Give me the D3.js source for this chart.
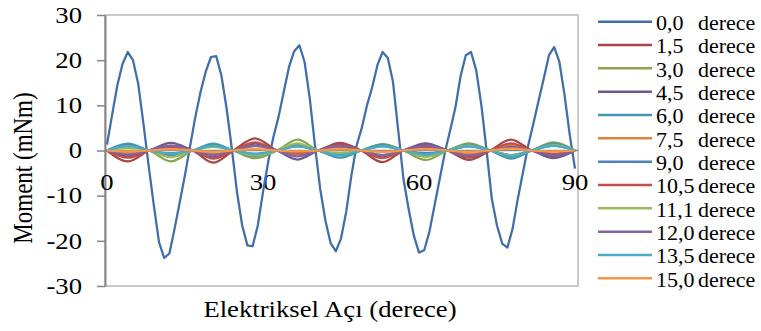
<!DOCTYPE html>
<html>
<head>
<meta charset="utf-8">
<script src="https://cdn.jsdelivr.net/npm/d3@7"></script>
<style>
    body { margin: 0; background: #fff; }
    svg { display: block; }
    text { font-family: "Liberation Serif", "Times New Roman", serif; fill: #000; }
</style>
</head>
<body>
<div id="chart"></div>
<script>

// x values (electrical angle, degrees) for the 0,0 series
let angles = d3.range(0, 91, 1);

// 0,0 derece - the large one, read point by point
let moment00 = [1.3, 8.0, 14.5, 19.2, 21.8, 20.0, 14.8, 6.0, -3.3, -12.1,
    -20.3, -23.8, -22.8, -17.3, -11.4, -5.4, 1.1, 7.5, 13.0, 17.5,
    20.7, 20.9, 16.6, 9.3, 0.5, -9.2, -16.6, -21.0, -21.2, -16.6,
    -9.2, -2.5, 3.0, 7.5, 13.0, 18.5, 22.0, 23.3, 19.6, 11.5,
    1.0, -8.5, -15.5, -20.5, -22.3, -19.5, -13.6, -5.5, 1.1, 5.0,
    10.0, 14.0, 18.9, 21.8, 20.5, 15.2, 4.5, -6.2, -12.9, -18.8,
    -22.6, -22.1, -18.0, -12.1, -6.2, -0.3, 4.5, 9.5, 16.5, 21.1,
    21.8, 17.8, 10.0, 0.0, -10.7, -16.6, -20.6, -21.5, -17.3, -10.7,
    -4.8, 1.1, 6.0, 11.0, 16.0, 21.1, 22.9, 19.6, 12.2, 3.4, -4.0];

// the small series all cross zero at these angles
let crossings = [0, 8.1, 16.5, 24.3, 32.7, 40.6, 48.9, 57.0, 65.5, 73.7, 81.7, 90];

// peak of each lobe between two crossings, per series
let peaks15 = [-2.4, 1.0, -2.7, 2.7, -0.8, 1.7, -2.6, 1.2, -2.1, 2.4, -1.2];
let peaks30 = [0.8, -2.4, 1.2, -1.7, 2.4, -0.8, 1.4, -2.1, 1.6, -1.5, 1.8];
let peaks45 = [-1.3, 1.7, -1.5, 1.5, -2.0, 1.3, -1.5, 1.6, -1.6, 1.0, -1.7];
let peaks60 = [1.5, -1.0, 1.5, -1.2, 1.3, -1.6, 1.3, -1.3, 1.3, -1.8, 1.5];
let peaks75 = [-0.5, 0.9, -0.8, 1.0, -0.7, 0.8, -1.0, 0.9, -0.8, 1.3, -0.7];
let peaks90 = [1.2, -0.6, 1.0, -0.7, 0.9, -0.8, 1.0, -0.6, 0.9, -1.0, 1.1];
let peaks105 = [-1.6, 0.7, -1.8, 1.8, -0.5, 1.2, -1.7, 0.8, -1.4, 1.6, -0.8];
let peaks111 = [0.5, -1.5, 0.8, -1.1, 1.6, -0.5, 0.9, -1.4, 1.1, -1.0, 1.2];
let peaks120 = [-0.9, 1.1, -1.0, 1.0, -1.3, 0.9, -1.0, 1.1, -1.1, 0.7, -1.1];
let peaks135 = [1.0, -0.7, 1.0, -0.8, 0.9, -1.1, 0.9, -0.9, 0.9, -1.2, 1.0];
let peaks150 = [-0.2, 0.3, -0.3, 0.3, -0.2, 0.3, -0.3, 0.3, -0.3, 0.4, -0.2];

let seriesNames = ["0,0", "1,5", "3,0", "4,5", "6,0", "7,5", "9,0", "10,5", "11,1", "12,0", "13,5", "15,0"];
let seriesColors = ["#3f6ea8", "#aa4643", "#89a54e", "#71588f", "#4198af", "#db843d",
    "#4f81bd", "#c0504d", "#9bbb59", "#8064a2", "#4bacc6", "#f79646"];
let smallPeaks = [peaks15, peaks30, peaks45, peaks60, peaks75, peaks90,
    peaks105, peaks111, peaks120, peaks135, peaks150];

let yTicks = [-30, -20, -10, 0, 10, 20, 30];
let xTicks = [0, 30, 60, 90];

// drawing area
let width = 761, height = 331;
let plot = {left: 105, right: 578, top: 15, bottom: 286};
let sx = 1.16;   // the original is a bit wider than tall

let svg = d3.select("#chart").append("svg")
    .attr("width", width)
    .attr("height", height);

let x = d3.scaleLinear().domain([0, 90]).range([107, 575]);
let y = d3.scaleLinear().domain([-30, 30]).range([plot.bottom, plot.top]);

// plot area frame
svg.append("rect")
    .attr("x", plot.left)
    .attr("y", plot.top)
    .attr("width", plot.right - plot.left)
    .attr("height", plot.bottom - plot.top)
    .attr("fill", "none")
    .attr("stroke", "#b8b8b8")
    .attr("stroke-width", 1.5);

// horizontal axis line at zero
svg.append("line")
    .attr("x1", plot.left).attr("x2", plot.right)
    .attr("y1", y(0)).attr("y2", y(0))
    .attr("stroke", "#868686")
    .attr("stroke-width", 1.5);

// y axis
let yAxis = d3.axisLeft(y).tickValues(yTicks).tickSize(8).tickSizeOuter(0).tickFormat(d3.format("d"));
let yg = svg.append("g")
    .attr("transform", `translate(${plot.left},0)`)
    .call(yAxis);
yg.select(".domain").attr("stroke", "#868686").attr("stroke-width", 2);
yg.selectAll(".tick line").attr("stroke", "#868686").attr("stroke-width", 1.5);
yg.selectAll(".tick text").remove();

// y tick labels (stretched like the original)
svg.selectAll(".ylab")
    .data(yTicks)
    .enter().append("text")
    .attr("class", "ylab")
    .attr("transform", d => `translate(82,${y(d) + 7.7}) scale(${sx},1)`)
    .attr("text-anchor", "end")
    .style("font-size", "23px")
    .text(d => d);

// x tick labels sit below the zero line
svg.selectAll(".xlab")
    .data(xTicks)
    .enter().append("text")
    .attr("class", "xlab")
    .attr("transform", d => `translate(${x(d)},${y(0) + 39.5}) scale(${sx},1)`)
    .attr("text-anchor", "middle")
    .style("font-size", "23px")
    .text(d => d);

// axis titles
svg.append("text")
    .attr("transform", `translate(330,316.5) scale(${sx},1)`)
    .attr("text-anchor", "middle")
    .style("font-size", "23px")
    .text("Elektriksel Açı (derece)");

svg.append("text")
    .attr("transform", `translate(31.5,168) scale(${sx},1) rotate(-90)`)
    .attr("text-anchor", "middle")
    .style("font-size", "23px")
    .text("Moment (mNm)");

// big series, straight segments
let bigLine = d3.line()
    .x((d, i) => x(angles[i]))
    .y(d => y(d));

svg.append("path")
    .datum(moment00)
    .attr("fill", "none")
    .attr("stroke", seriesColors[0])
    .attr("stroke-width", 2.25)
    .attr("stroke-linejoin", "round")
    .attr("d", bigLine);

// small series: zero at each crossing, lobe peak in between
let smoothLine = d3.line()
    .x(d => x(d[0]))
    .y(d => y(d[1]))
    .curve(d3.curveMonotoneX);

smallPeaks.forEach((peaks, s) => {
    let pts = [[crossings[0], 0]];
    peaks.forEach((p, i) => {
        pts.push([(crossings[i] + crossings[i + 1]) / 2, p]);
        pts.push([crossings[i + 1], 0]);
    });
    svg.append("path")
        .datum(pts)
        .attr("fill", "none")
        .attr("stroke", seriesColors[s + 1])
        .attr("stroke-width", 2.25)
        .attr("d", smoothLine);
});

// legend
let legend = svg.append("g").attr("class", "legend");
let rowY = i => 21.7 + i * 23.33;

legend.selectAll("line")
    .data(seriesNames)
    .enter().append("line")
    .attr("x1", 598).attr("x2", 652)
    .attr("y1", (d, i) => rowY(i)).attr("y2", (d, i) => rowY(i))
    .attr("stroke", (d, i) => seriesColors[i])
    .attr("stroke-width", 2.5);

legend.selectAll(".lnum")
    .data(seriesNames)
    .enter().append("text")
    .attr("class", "lnum")
    .attr("transform", (d, i) => `translate(656,${rowY(i) + 8.3}) scale(1.1,1)`)
    .style("font-size", "20px")
    .text(d => d);

legend.selectAll(".lunit")
    .data(seriesNames)
    .enter().append("text")
    .attr("class", "lunit")
    .attr("transform", (d, i) => `translate(698,${rowY(i) + 8.3}) scale(1.1,1)`)
    .style("font-size", "20px")
    .text("derece");

</script>
</body>
</html>
